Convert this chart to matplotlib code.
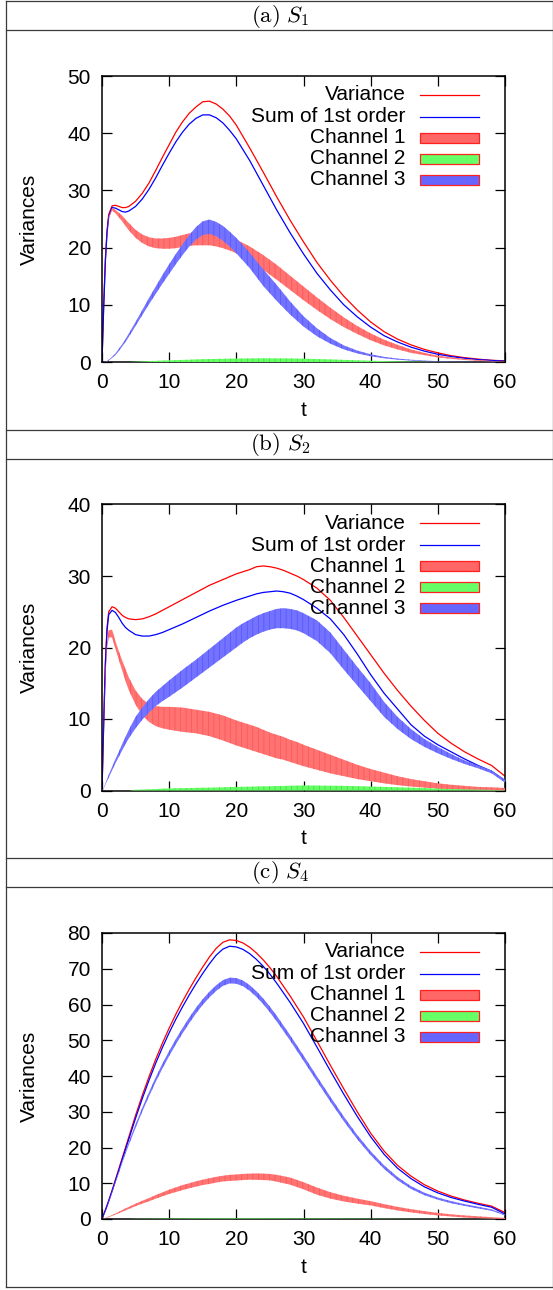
import matplotlib
matplotlib.use('Agg')
import matplotlib.pyplot as plt
from matplotlib.lines import Line2D
from matplotlib.patches import Rectangle

plt.rcParams['font.family'] = ['Liberation Sans', 'DejaVu Sans']
plt.rcParams['mathtext.fontset'] = 'cm'
plt.rcParams['hatch.linewidth'] = 0.5

# ---------------- data ----------------
# panel (a) S1
t_a = [0, 0.25, 0.5, 0.75, 1, 1.5, 2, 2.5, 3, 3.5, 4,
       5, 6, 7, 8, 9, 10, 11, 12, 13, 14, 15, 16, 17, 18, 19, 20,
       22, 24, 26, 28, 30, 32, 34, 36, 38, 40, 42, 44, 46, 48, 50, 52, 54, 56, 58, 60]
var_a = [0, 10, 18, 23, 25.8, 27.3, 27.4, 27.2, 27.0, 27.0, 27.2,
         28.1, 29.5, 31.3, 33.5, 35.8, 38.0, 40.2, 42.0, 43.5, 44.6, 45.5, 45.6, 45.1, 44.2, 43.0, 41.4,
         37.4, 33.2, 28.9, 24.8, 21.0, 17.4, 14.3, 11.5, 9.1, 7.0, 5.3, 4.0, 3.0, 2.2, 1.6, 1.1, 0.75, 0.5, 0.3, 0.2]
sum_a = [0, 9.5, 17.5, 22.6, 25.4, 27.0, 26.9, 26.6, 26.3, 26.2, 26.4,
         27.2, 28.5, 30.2, 32.2, 34.4, 36.5, 38.5, 40.2, 41.6, 42.6, 43.2, 43.2, 42.7, 41.8, 40.5, 39.0,
         35.2, 30.9, 26.6, 22.6, 18.9, 15.5, 12.6, 10.0, 7.9, 6.1, 4.6, 3.5, 2.6, 1.9, 1.35, 0.95, 0.65, 0.42, 0.27, 0.15]
ch1_lo_a = [0, 9.4, 17.3, 22.3, 25.1, 26.5, 26.0, 25.3, 24.6, 23.8, 23.0,
            21.7, 20.8, 20.2, 19.9, 19.8, 19.8, 19.9, 20.1, 20.3, 20.4, 20.4, 20.4, 20.2, 19.9, 19.5, 19.0,
            17.7, 16.1, 14.4, 12.6, 10.8, 9.1, 7.5, 6.1, 4.9, 3.8, 2.9, 2.2, 1.6, 1.2, 0.8, 0.55, 0.35, 0.2, 0.1, 0.05]
ch1_hi_a = [0, 9.5, 17.5, 22.5, 25.4, 26.9, 26.6, 26.1, 25.6, 24.9, 24.3,
            23.1, 22.3, 21.8, 21.6, 21.6, 21.7, 21.9, 22.2, 22.5, 22.7, 22.8, 22.8, 22.6, 22.3, 21.9, 21.4,
            20.2, 18.7, 17.0, 15.1, 13.2, 11.3, 9.5, 7.8, 6.3, 5.0, 3.9, 3.0, 2.2, 1.6, 1.1, 0.8, 0.55, 0.35, 0.2, 0.1]
ch2_hi_a = [0, 0, 0, 0, 0, 0, 0, 0, 0, 0, 0,
            0.05, 0.1, 0.15, 0.2, 0.25, 0.3, 0.33, 0.37, 0.4, 0.45, 0.5, 0.52, 0.54, 0.56, 0.58, 0.6,
            0.63, 0.65, 0.64, 0.62, 0.58, 0.52, 0.45, 0.37, 0.3, 0.22, 0.16, 0.11, 0.07, 0.04, 0.02, 0.01, 0.01, 0, 0, 0]
ch3_lo_a = [0, 0, 0, 0.1, 0.25, 0.7, 1.2, 1.9, 2.7, 3.5, 4.4,
            6.3, 8.2, 10.1, 11.9, 13.7, 15.4, 17.1, 18.7, 20.2, 21.4, 22.2, 22.4, 22.0, 21.2, 20.2, 19.0,
            16.4, 13.3, 10.7, 8.3, 6.2, 4.5, 3.2, 2.2, 1.5, 1.0, 0.65, 0.4, 0.25, 0.15, 0.08, 0.04, 0.02, 0.01, 0, 0]
ch3_hi_a = [0, 0, 0.05, 0.2, 0.4, 0.9, 1.5, 2.3, 3.1, 4.0, 5.0,
            7.0, 9.1, 11.2, 13.2, 15.2, 17.1, 18.9, 20.6, 22.2, 23.6, 24.6, 24.9, 24.5, 23.8, 22.8, 21.7,
            19.1, 16.2, 13.5, 10.6, 8.0, 5.9, 4.2, 2.9, 2.0, 1.35, 0.9, 0.6, 0.4, 0.25, 0.15, 0.09, 0.05, 0.03, 0.02, 0.01]

# panel (b) S2
t_b = [0, 0.25, 0.5, 0.75, 1, 1.5, 2, 2.5, 3, 3.5, 4,
       5, 6, 7, 8, 9, 10, 12, 14, 16, 18, 20, 21, 22, 23, 24, 25, 26, 27, 28, 29, 30,
       32, 34, 36, 38, 40, 42, 44, 46, 48, 50, 52, 54, 56, 58, 60]
var_b = [0, 9.5, 18, 22.8, 25.0, 25.7, 25.5, 25.0, 24.5, 24.2, 24.0,
         23.9, 24.0, 24.3, 24.7, 25.2, 25.7, 26.7, 27.7, 28.7, 29.5, 30.3, 30.6, 30.9, 31.3, 31.4, 31.3,
         31.1, 30.8, 30.4, 30.0, 29.5,
         28.3, 26.6, 24.2, 21.6, 19.0, 16.4, 14.0, 11.8, 9.8, 8.0, 6.6, 5.4, 4.4, 3.5, 2.0]
sum_b = [0, 9.2, 17.5, 22.4, 24.6, 25.2, 24.9, 24.2, 23.4, 22.8, 22.4,
         21.8, 21.6, 21.6, 21.8, 22.1, 22.5, 23.3, 24.2, 25.1, 25.9, 26.6, 26.9, 27.2, 27.5, 27.7, 27.8,
         27.9, 27.8, 27.6, 27.2, 26.7,
         25.5, 24.0, 21.8, 19.1, 16.2, 13.6, 11.4, 9.2, 7.6, 6.4, 5.4, 4.4, 3.5, 2.7, 1.4]
ch1_lo_b = [0, 8.5, 15.5, 19.8, 21.4, 21.4, 19.8, 18.3, 16.8, 15.3, 14.0,
            12.0, 10.5, 9.6, 9.0, 8.7, 8.5, 8.2, 8.0, 7.6, 7.0, 6.3, 6.0, 5.7, 5.4, 5.1, 4.8,
            4.5, 4.3, 4.0, 3.7, 3.4,
            2.9, 2.4, 2.0, 1.6, 1.3, 1.0, 0.75, 0.55, 0.4, 0.25, 0.15, 0.08, 0.04, 0.02, 0]
ch1_hi_b = [0, 9.0, 16.5, 20.8, 22.4, 22.5, 20.9, 19.5, 18.2, 17.0, 15.8,
            14.0, 12.8, 12.1, 11.8, 11.7, 11.7, 11.6, 11.3, 11.0, 10.5, 9.8, 9.5, 9.2, 8.9, 8.5, 8.1,
            7.8, 7.5, 7.1, 6.8, 6.4,
            5.7, 5.0, 4.3, 3.6, 3.0, 2.5, 2.0, 1.6, 1.3, 1.0, 0.8, 0.65, 0.5, 0.45, 0.35]
ch2_hi_b = [0, 0, 0, 0, 0, 0, 0, 0, 0, 0, 0,
            0.1, 0.13, 0.17, 0.2, 0.25, 0.3, 0.33, 0.37, 0.4, 0.45, 0.5, 0.52, 0.54, 0.56, 0.58, 0.6,
            0.62, 0.64, 0.66, 0.68, 0.7,
            0.69, 0.67, 0.65, 0.61, 0.55, 0.5, 0.45, 0.4, 0.34, 0.25, 0.2, 0.15, 0.12, 0.08, 0.05]
ch3_lo_b = [0, 0.3, 0.8, 1.3, 1.8, 2.8, 3.8, 4.7, 5.6, 6.5, 7.3,
            8.7, 9.9, 10.9, 11.8, 12.5, 13.1, 14.4, 15.8, 17.2, 18.6, 20.0, 20.7, 21.3, 21.8, 22.2, 22.5,
            22.7, 22.7, 22.6, 22.4, 22.0,
            20.9, 19.2, 16.9, 14.7, 12.5, 10.3, 8.6, 7.2, 6.1, 5.2, 4.4, 3.7, 3.1, 2.4, 1.1]
ch3_hi_b = [0, 0.4, 1.0, 1.6, 2.2, 3.3, 4.4, 5.4, 6.5, 7.5, 8.5,
            10.3, 11.6, 12.8, 13.8, 14.6, 15.4, 16.9, 18.3, 19.8, 21.3, 22.8, 23.4, 23.9, 24.4, 24.8, 25.1,
            25.4, 25.5, 25.4, 25.2, 24.8,
            23.8, 22.1, 19.7, 17.3, 15.0, 12.4, 10.3, 8.6, 7.2, 6.1, 5.1, 4.2, 3.5, 2.8, 1.5]

# panel (c) S4
t_c = [0, 0.25, 0.5, 0.75, 1, 1.5, 2, 2.5, 3, 3.5, 4,
       5, 6, 7, 8, 9, 10, 11, 12, 13, 14, 15, 16, 17, 18, 19, 20, 21, 22, 23, 24, 25,
       26, 28, 30, 32, 34, 36, 38, 40, 42, 44, 46, 48, 50, 52, 54, 56, 58, 60]
var_c = [0, 1.3, 2.5, 3.8, 5.2, 8.0, 11.0, 14.0, 17.0, 20.0, 23.0,
         29.0, 34.6, 39.8, 44.7, 49.2, 53.4, 57.3, 60.9, 64.3, 67.5, 70.5, 73.3, 75.7, 77.4, 78.1, 77.9,
         77.2, 76.0, 74.4, 72.5, 70.3,
         67.9, 62.4, 56.5, 49.8, 43.0, 36.4, 30.0, 24.0, 19.0, 15.0, 12.0, 9.6, 7.8, 6.4, 5.3, 4.4, 3.6, 1.8]
sum_c = [0, 1.25, 2.4, 3.7, 5.0, 7.8, 10.7, 13.6, 16.6, 19.5, 22.4,
         28.2, 33.7, 38.8, 43.6, 48.0, 52.1, 55.9, 59.4, 62.7, 65.8, 68.7, 71.4, 73.8, 75.5, 76.3, 76.1,
         75.4, 74.2, 72.6, 70.7, 68.5,
         66.0, 60.6, 54.7, 48.1, 41.4, 34.9, 28.7, 23.0, 18.1, 14.2, 11.3, 9.0, 7.3, 6.0, 5.0, 4.1, 3.3, 1.4]
ch1_lo_c = [0, 0.13, 0.25, 0.38, 0.5, 0.88, 1.25, 1.6, 2.0, 2.42, 2.8,
            3.6, 4.3, 4.95, 5.7, 6.35, 7.0, 7.55, 8.1, 8.6, 9.05, 9.5, 9.8, 10.2, 10.5, 10.65, 10.75,
            10.9, 11.0, 10.95, 10.9, 10.8,
            10.45, 9.6, 8.3, 6.8, 5.7, 4.9, 4.3, 3.8, 3.05, 2.4, 1.85, 1.4, 1.0, 0.7, 0.4, 0.25, 0.1, 0]
ch1_hi_c = [0, 0.17, 0.35, 0.52, 0.7, 1.12, 1.55, 2.0, 2.5, 2.98, 3.4,
            4.3, 5.1, 5.85, 6.7, 7.45, 8.2, 8.85, 9.5, 10.0, 10.55, 11.0, 11.4, 11.8, 12.1, 12.35, 12.45,
            12.6, 12.7, 12.75, 12.7, 12.6,
            12.35, 11.6, 10.3, 8.8, 7.5, 6.5, 5.7, 5.0, 4.15, 3.4, 2.75, 2.2, 1.7, 1.3, 1.0, 0.75, 0.5, 0.3]
ch2_hi_c = [0, 0, 0, 0, 0, 0, 0, 0, 0, 0, 0,
            0.05, 0.06, 0.07, 0.08, 0.09, 0.1, 0.11, 0.12, 0.13, 0.14, 0.14, 0.15, 0.15, 0.15, 0.15, 0.15,
            0.15, 0.15, 0.15, 0.14, 0.14,
            0.14, 0.13, 0.12, 0.11, 0.1, 0.09, 0.08, 0.07, 0.06, 0.05, 0.04, 0.03, 0.02, 0.02, 0.01, 0.01, 0.01, 0]
ch3_lo_c = [0, 1.1, 2.2, 3.4, 4.65, 7.3, 10.05, 12.8, 15.55, 18.2, 20.75,
            25.5, 30.05, 34.3, 38.35, 42.1, 45.6, 48.85, 51.95, 54.8, 57.5, 59.9, 62.0, 63.8, 65.2, 65.9, 65.8,
            65.1, 63.8, 62.1, 60.1, 57.8,
            55.3, 49.95, 44.25, 38.5, 32.8, 27.35, 22.3, 17.85, 14.0, 10.85, 8.4, 6.65, 5.4, 4.4, 3.65, 2.95, 2.3, 1.0]
ch3_hi_c = [0, 1.2, 2.4, 3.6, 4.95, 7.7, 10.55, 13.4, 16.25, 19.0, 21.65,
            26.5, 31.15, 35.5, 39.65, 43.5, 47.0, 50.35, 53.45, 56.4, 59.1, 61.5, 63.6, 65.4, 66.8, 67.5, 67.4,
            66.7, 65.4, 63.7, 61.7, 59.4,
            56.9, 51.45, 45.75, 39.9, 34.2, 28.65, 23.5, 18.95, 15.0, 11.75, 9.2, 7.35, 6.0, 5.0, 4.15, 3.45, 2.7, 1.3]

panel_titles = [r"$\mathrm{(a)}\ S_1$", r"$\mathrm{(b)}\ S_2$", r"$\mathrm{(c)}\ S_4$"]
x_ticks = [0, 10, 20, 30, 40, 50, 60]
y_ticks_a = [0, 10, 20, 30, 40, 50]
y_ticks_b = [0, 10, 20, 30, 40]
y_ticks_c = [0, 10, 20, 30, 40, 50, 60, 70, 80]
legend_labels = ["Variance", "Sum of 1st order", "Channel 1", "Channel 2", "Channel 3"]

# ---------------- layout ----------------
W, H = 553, 1290
fig = plt.figure(figsize=(W / 100, H / 100), dpi=100)


def fx(px):
    return px / W


def fy(py):
    return 1 - py / H


border = '#3a3a3a'
for yy in [1, 30, 430, 459, 858, 887, 1287]:
    fig.add_artist(Line2D([fx(5.5), fx(553)], [fy(yy), fy(yy)], color=border, lw=0.9,
                          transform=fig.transFigure))
for xx in [5.5, 552.5]:
    fig.add_artist(Line2D([fx(xx), fx(xx)], [fy(1), fy(1287)], color=border, lw=0.9,
                          transform=fig.transFigure))

FS = 15
RED_LINE = '#ff0000'
BLUE_LINE = '#0000ff'
BAND = {
    1: dict(face='#ff7373', hatch='#ff5252'),
    2: dict(face='#66ff66', hatch='#3ae03a'),
    3: dict(face='#7373ff', hatch='#5252ff'),
}
LEG_FACE = {1: '#ff6666', 2: '#66ff66', 3: '#6666ff'}

panels = [
    dict(top=76, title_y=16, ymax=50, yt=y_ticks_a, t=t_a, var=var_a, sm=sum_a,
         ch=[(ch1_lo_a, ch1_hi_a), (None, ch2_hi_a), (ch3_lo_a, ch3_hi_a)]),
    dict(top=504.5, title_y=445, ymax=40, yt=y_ticks_b, t=t_b, var=var_b, sm=sum_b,
         ch=[(ch1_lo_b, ch1_hi_b), (None, ch2_hi_b), (ch3_lo_b, ch3_hi_b)]),
    dict(top=933, title_y=873, ymax=80, yt=y_ticks_c, t=t_c, var=var_c, sm=sum_c,
         ch=[(ch1_lo_c, ch1_hi_c), (None, ch2_hi_c), (ch3_lo_c, ch3_hi_c)]),
]

AX_L, AX_R, AX_H = 102, 505, 286

for i, p in enumerate(panels):
    fig.text(fx(280), fy(p['title_y']), panel_titles[i], ha='center', va='center', fontsize=16.5)
    ax = fig.add_axes([fx(AX_L), fy(p['top'] + AX_H), (AX_R - AX_L) / W, AX_H / H])
    ax.plot(p['t'], p['var'], color=RED_LINE, lw=0.9, zorder=2)
    ax.plot(p['t'], p['sm'], color=BLUE_LINE, lw=0.9, zorder=2)
    for k, (lo, hi) in enumerate(p['ch'], start=1):
        base = 0 if lo is None else lo
        ax.fill_between(p['t'], base, hi, facecolor=BAND[k]['face'], edgecolor=BAND[k]['hatch'],
                        hatch='|||', lw=0, zorder=3 + k)
    ax.set_xlim(0, 60)
    ax.set_ylim(0, p['ymax'])
    ax.set_xticks(x_ticks)
    ax.set_yticks(p['yt'])
    ax.tick_params(direction='in', length=7, width=0.9, top=True, right=True,
                   labelsize=FS, pad=8)
    for s in ax.spines.values():
        s.set_linewidth(1.1)
    ax.text(-0.179, 0.5, 'Variances', rotation=90, ha='center', va='center',
            transform=ax.transAxes, fontsize=FS)
    ax.text(0.5, -0.168, 't', ha='center', va='center', transform=ax.transAxes, fontsize=FS)

    # legend (gnuplot style, right-aligned labels)
    rows = [0.9336, 0.858, 0.784, 0.711, 0.637]
    for j, lab in enumerate(legend_labels):
        ax.text(0.754, rows[j], lab, transform=ax.transAxes, ha='right', va='center',
                fontsize=FS, zorder=10)
        if j == 0:
            ax.plot([0.789, 0.935], [rows[j]] * 2, transform=ax.transAxes, color=RED_LINE,
                    lw=0.9, zorder=10)
        elif j == 1:
            ax.plot([0.789, 0.935], [rows[j]] * 2, transform=ax.transAxes, color=BLUE_LINE,
                    lw=0.9, zorder=10)
        else:
            ax.add_patch(Rectangle((0.789, rows[j] - 0.0175), 0.146, 0.035,
                                   transform=ax.transAxes, facecolor=LEG_FACE[j - 1],
                                   edgecolor='#ff2020', lw=0.9, zorder=10))

fig.savefig('out.png', dpi=100)
